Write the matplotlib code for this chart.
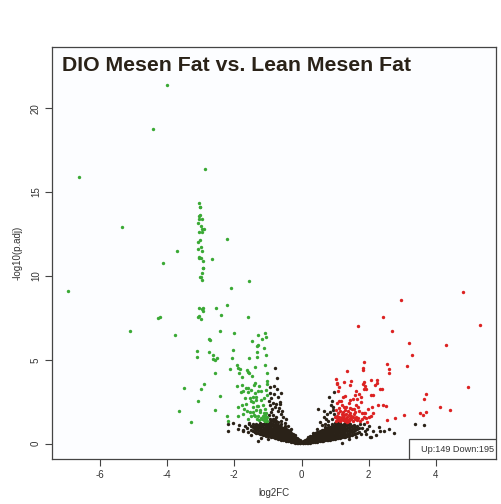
import matplotlib
matplotlib.use("Agg")
import matplotlib.pyplot as plt
from matplotlib.patches import Rectangle

plt.rcParams['font.family'] = ['Liberation Sans', 'DejaVu Sans']

title = "DIO Mesen Fat vs. Lean Mesen Fat"
legend_text = "Up:149 Down:195"
x_ticks = [-6, -4, -2, 0, 2, 4]
y_ticks = [0, 5, 10, 15, 20]

# down-regulated genes (log2FC, -log10 p.adj)
down_pts = [
    (-4.02, 21.4), (-4.41, 18.75), (-6.64, 15.9), (-2.86, 16.35), (-5.35, 12.9),
    (-2.22, 12.2), (-3.71, 11.5), (-4.13, 10.8), (-2.68, 11.0), (-1.56, 9.73),
    (-2.11, 9.3), (-6.94, 9.13), (-5.12, 6.73), (-4.26, 7.5), (-4.2, 7.55),
    (-3.78, 6.47), (-3.5, 3.32), (-3.66, 1.95), (-3.28, 1.3), (-3.09, 2.55),
    (-2.98, 3.24), (-2.9, 3.54),
    (-3.04, 14.37), (-3.01, 14.1), (-3.03, 14.12), (-3.04, 13.6), (-3.01, 13.62),
    (-3.06, 13.4), (-2.97, 13.38), (-3.07, 13.15), (-2.99, 13.0), (-2.97, 12.8),
    (-2.91, 12.82), (-3.04, 12.6), (-2.95, 12.64), (-3.01, 12.16), (-3.07, 12.0),
    (-2.99, 11.7), (-3.09, 11.6), (-2.97, 11.5), (-3.04, 11.15), (-2.98, 11.06),
    (-2.93, 10.9), (-2.94, 10.5), (-2.94, 10.45), (-2.97, 10.15), (-3.03, 9.93),
    (-2.98, 9.93), (-2.96, 9.75), (-3.06, 11.1),
    (-3.1, 5.55), (-3.1, 5.19), (-3.08, 7.58), (-3.05, 7.6), (-3.0, 7.42),
    (-3.06, 8.12), (-2.96, 8.02), (-2.92, 8.1), (-2.93, 7.92), (-2.75, 6.25),
    (-2.72, 6.2), (-2.75, 5.45), (-2.63, 5.3), (-2.63, 5.06), (-2.57, 5.02),
    (-2.51, 5.1), (-2.58, 4.2), (-2.59, 2.03), (-2.44, 2.82), (-2.44, 6.7),
    (-2.55, 8.08), (-2.41, 7.7), (-2.22, 8.28), (-2.0, 6.63), (-2.05, 5.59),
    (-2.07, 5.1), (-2.12, 4.46), (-2.22, 1.65), (-2.19, 1.37), (-1.91, 4.67),
    (-1.88, 4.5), (-1.85, 4.24), (-1.76, 4.0), (-1.91, 3.44), (-1.88, 2.17),
    (-1.9, 1.67), (-1.6, 7.58), (-1.47, 6.11), (-1.55, 5.1), (-1.61, 4.4),
    (-1.58, 4.3), (-1.38, 4.6), (-1.48, 4.04), (-1.34, 5.81), (-1.32, 5.15),
    (-1.29, 5.87), (-1.29, 6.47),
    (-1.08, 6.59), (-1.05, 6.39), (-1.18, 6.25), (-1.12, 5.69), (-1.34, 5.49),
    (-1.06, 5.3), (-1.08, 4.67), (-1.82, 4.46), (-1.56, 4.24), (-1.02, 4.24),
    (-1.03, 3.74), (-1.03, 3.56), (-1.38, 3.64), (-1.42, 3.52), (-1.76, 3.5),
    (-1.26, 3.42), (-1.65, 3.34), (-1.6, 3.34), (-1.5, 3.18), (-1.3, 3.16),
    (-1.2, 3.16), (-1.8, 3.08), (-1.73, 3.12), (-1.6, 3.08), (-1.4, 3.0),
    (-1.44, 2.81), (-1.37, 2.81), (-1.54, 2.7), (-1.22, 2.61), (-1.5, 2.53),
    (-1.44, 2.49), (-1.66, 2.37), (-1.34, 2.27), (-1.29, 2.25), (-1.46, 2.17),
    (-1.7, 2.07), (-1.24, 2.01), (-1.37, 1.99), (-1.52, 1.87), (-1.46, 1.87),
    (-1.24, 1.87), (-1.12, 1.81), (-1.07, 1.81), (-1.5, 1.65), (-1.39, 1.63),
    (-1.29, 1.65), (-1.12, 1.57), (-1.07, 1.55), (-1.08, 1.37),
    (-1.18, 1.45), (-1.13, 1.42), (-1.05, 1.47), (-1.02, 1.62), (-1.16, 1.68),
    (-1.21, 1.52), (-1.1, 1.7), (-1.04, 1.38), (-1.26, 1.4), (-1.34, 1.48),
    (-1.42, 1.72), (-1.58, 1.5), (-1.62, 1.95), (-1.78, 2.3), (-1.35, 2.6),
    (-1.15, 2.3), (-1.1, 2.05), (-1.02, 2.9), (-1.06, 3.2), (-1.12, 2.7),
    (-1.75, 1.8), (-1.68, 2.7),
]

# up-regulated genes
up_pts = [
    (4.8, 9.07), (2.97, 8.54), (5.31, 7.1), (2.42, 7.54), (1.69, 7.0),
    (2.69, 6.71), (3.2, 6.01), (4.29, 5.89), (3.28, 5.29), (3.15, 4.63),
    (1.85, 4.86), (2.54, 4.76), (1.84, 4.5), (1.82, 4.4), (2.6, 4.46),
    (2.61, 4.24), (1.34, 4.34), (4.95, 3.36), (3.71, 2.94), (3.66, 2.67),
    (4.12, 2.21), (4.43, 2.03), (3.72, 1.89), (3.52, 1.83), (3.63, 1.71),
    (3.04, 1.73), (2.78, 1.53), (2.53, 1.41),
    (1.04, 3.84), (1.07, 3.64), (1.06, 3.58), (1.13, 3.4), (1.27, 3.66),
    (1.48, 3.72), (1.45, 3.48), (1.82, 3.56), (1.87, 3.7), (2.06, 3.8),
    (2.24, 3.8), (2.26, 3.62), (1.9, 3.46), (1.85, 3.26), (1.91, 3.26),
    (2.2, 3.48), (2.34, 3.24), (2.4, 3.24), (1.08, 3.16), (1.63, 3.12),
    (1.7, 2.96), (1.59, 2.92), (2.06, 2.92), (2.12, 2.92), (1.77, 2.81),
    (1.23, 2.76), (1.43, 2.61), (1.53, 2.64), (1.65, 2.64), (1.77, 2.47),
    (1.11, 2.53), (2.28, 2.33), (2.44, 2.33), (2.5, 2.25), (1.26, 2.21),
    (1.32, 2.19), (1.63, 2.33), (1.69, 2.17), (2.1, 2.21), (1.57, 2.05),
    (1.99, 2.05), (1.8, 1.85), (1.86, 1.81), (1.9, 1.81), (2.14, 1.81),
    (2.08, 1.63), (2.0, 1.57), (1.79, 1.47), (1.91, 1.51), (1.94, 1.32),
    (1.03, 1.36), (1.05, 1.52), (1.06, 1.68), (1.08, 1.85), (1.1, 1.42),
    (1.12, 1.6), (1.14, 1.95), (1.16, 1.34), (1.17, 1.5), (1.19, 1.75),
    (1.21, 1.62), (1.22, 1.4), (1.24, 1.88), (1.25, 1.55), (1.27, 1.7),
    (1.29, 1.37), (1.3, 2.02), (1.32, 1.5), (1.33, 1.8), (1.35, 1.62),
    (1.37, 1.43), (1.38, 1.95), (1.4, 1.7), (1.42, 1.35), (1.43, 1.55),
    (1.45, 1.82), (1.47, 1.45), (1.48, 1.65), (1.5, 2.05), (1.52, 1.38),
    (1.54, 1.58), (1.56, 1.76), (1.58, 1.46), (1.6, 1.9), (1.62, 1.62),
    (1.65, 1.4), (1.68, 1.55), (1.12, 2.1), (1.2, 2.3), (1.4, 2.4),
    (1.45, 2.15), (1.72, 1.95), (1.0, 1.6), (1.02, 2.0), (1.18, 2.55),
    (1.3, 2.85), (1.06, 2.4), (1.08, 1.47), (1.35, 1.31), (1.75, 1.35),
    (1.86, 1.6),
]

# non-significant genes, dense V: log2FC column -> -log10 p.adj values
ns_cols = [
    (-0.05, [0.02, 0.06, 0.1, 0.15, 0.2]),
    (-0.1, [0.03, 0.08, 0.13, 0.18, 0.24, 0.3]),
    (-0.15, [0.05, 0.1, 0.16, 0.22, 0.28, 0.36]),
    (-0.2, [0.07, 0.13, 0.2, 0.27, 0.34, 0.42, 0.5]),
    (-0.25, [0.1, 0.17, 0.24, 0.31, 0.38, 0.46, 0.55]),
    (-0.3, [0.12, 0.2, 0.28, 0.36, 0.44, 0.52, 0.62]),
    (-0.35, [0.14, 0.22, 0.3, 0.38, 0.46, 0.55, 0.65, 0.75]),
    (-0.4, [0.16, 0.25, 0.34, 0.43, 0.52, 0.61, 0.7, 0.82]),
    (-0.45, [0.18, 0.27, 0.36, 0.45, 0.54, 0.64, 0.74, 0.86]),
    (-0.5, [0.2, 0.3, 0.4, 0.5, 0.6, 0.7, 0.8, 0.92, 1.05]),
    (-0.55, [0.22, 0.32, 0.42, 0.52, 0.62, 0.73, 0.84, 0.96]),
    (-0.6, [0.25, 0.35, 0.45, 0.56, 0.67, 0.78, 0.9, 1.02, 1.15]),
    (-0.65, [0.27, 0.38, 0.49, 0.6, 0.71, 0.83, 0.95, 1.08]),
    (-0.7, [0.3, 0.41, 0.52, 0.64, 0.76, 0.88, 1.0, 1.13, 1.28]),
    (-0.75, [0.32, 0.44, 0.56, 0.68, 0.8, 0.93, 1.06, 1.2, 1.36]),
    (-0.8, [0.35, 0.47, 0.6, 0.73, 0.86, 0.99, 1.13, 1.28, 1.45]),
    (-0.85, [0.38, 0.5, 0.63, 0.76, 0.9, 1.04, 1.18, 1.33, 1.5]),
    (-0.9, [0.41, 0.54, 0.67, 0.81, 0.95, 1.1, 1.25, 1.42]),
    (-0.95, [0.44, 0.57, 0.71, 0.85, 1.0, 1.15, 1.3, 1.48]),
    (-1.0, [0.46, 0.6, 0.74, 0.89, 1.04, 1.2]),
    (-1.05, [0.48, 0.62, 0.77, 0.92, 1.08, 1.24]),
    (-1.1, [0.5, 0.65, 0.8, 0.96, 1.12, 1.26]),
    (-1.15, [0.53, 0.68, 0.84, 1.0, 1.16]),
    (-1.2, [0.56, 0.72, 0.88, 1.04, 1.2]),
    (-1.25, [0.6, 0.76, 0.92, 1.08, 1.24]),
    (-1.3, [0.64, 0.8, 0.97, 1.14]),
    (-1.35, [0.68, 0.85, 1.02, 1.2]),
    (-1.4, [0.72, 0.9, 1.08]),
    (-1.45, [0.78, 0.97, 1.18]),
    (-1.5, [0.84, 1.05]),
    (0.05, [0.02, 0.06, 0.1, 0.15]),
    (0.1, [0.03, 0.08, 0.13, 0.19, 0.25]),
    (0.15, [0.04, 0.1, 0.16, 0.22, 0.29]),
    (0.2, [0.05, 0.11, 0.18, 0.25, 0.33, 0.41]),
    (0.25, [0.07, 0.13, 0.2, 0.28, 0.36, 0.45]),
    (0.3, [0.08, 0.15, 0.23, 0.31, 0.39, 0.48]),
    (0.35, [0.1, 0.17, 0.25, 0.33, 0.42, 0.52]),
    (0.4, [0.11, 0.19, 0.27, 0.36, 0.45, 0.55, 0.66]),
    (0.45, [0.12, 0.2, 0.29, 0.38, 0.48, 0.58, 0.68]),
    (0.5, [0.14, 0.22, 0.31, 0.41, 0.51, 0.61, 0.72]),
    (0.55, [0.15, 0.24, 0.33, 0.43, 0.53, 0.64, 0.76]),
    (0.6, [0.17, 0.26, 0.36, 0.46, 0.57, 0.68, 0.8]),
    (0.65, [0.18, 0.28, 0.38, 0.49, 0.6, 0.72, 0.84]),
    (0.7, [0.2, 0.3, 0.41, 0.52, 0.63, 0.75, 0.88, 1.0]),
    (0.75, [0.21, 0.32, 0.43, 0.55, 0.67, 0.79, 0.92]),
    (0.8, [0.23, 0.34, 0.46, 0.58, 0.7, 0.83, 0.96, 1.1]),
    (0.85, [0.25, 0.36, 0.48, 0.61, 0.74, 0.87, 1.0]),
    (0.9, [0.27, 0.38, 0.51, 0.64, 0.77, 0.9, 1.04, 1.18]),
    (0.95, [0.28, 0.4, 0.53, 0.67, 0.8, 0.94, 1.08]),
    (1.0, [0.3, 0.42, 0.56, 0.7, 0.84, 0.98, 1.12, 1.26]),
    (1.05, [0.32, 0.45, 0.59, 0.73, 0.87, 1.01, 1.16]),
    (1.1, [0.34, 0.47, 0.61, 0.76, 0.91, 1.06, 1.22]),
    (1.15, [0.36, 0.5, 0.64, 0.79, 0.94, 1.1, 1.25]),
    (1.2, [0.38, 0.52, 0.67, 0.82, 0.98, 1.14]),
    (1.25, [0.4, 0.55, 0.7, 0.86, 1.02, 1.18]),
    (1.3, [0.42, 0.57, 0.73, 0.89, 1.05, 1.22]),
    (1.35, [0.45, 0.6, 0.76, 0.93, 1.1]),
    (1.4, [0.47, 0.63, 0.8, 0.97, 1.15]),
    (1.45, [0.5, 0.67, 0.84, 1.02, 1.2]),
    (1.5, [0.53, 0.7, 0.88, 1.06]),
    (1.55, [0.56, 0.74, 0.92, 1.1]),
    (1.6, [0.6, 0.8, 1.0]),
    (1.65, [0.65, 0.86, 1.08]),
    (1.7, [0.7, 0.92]),
]

# scattered non-significant genes
ns_pts = [
    (-1.57, 1.17), (-1.55, 1.21), (-1.62, 0.92), (-1.75, 0.74), (-1.73, 0.8),
    (-2.18, 0.74), (-2.19, 1.17), (-1.43, 0.94), (-1.39, 0.72), (-1.3, 0.14),
    (-1.35, 0.62), (-1.4, 0.97), (-1.68, 1.05), (-1.85, 1.1), (-1.9, 0.9),
    (-1.6, 0.7), (-2.05, 1.22), (-1.5, 0.5), (-1.2, 0.35), (-1.0, 0.3),
    (-0.78, 4.5), (-0.73, 3.92), (-0.82, 3.42), (-0.93, 3.36), (-0.63, 2.37),
    (-0.82, 2.96), (-0.7, 2.76), (-0.9, 2.73), (-0.65, 2.46), (-0.86, 2.45),
    (-0.8, 2.17), (-0.7, 1.97), (-0.55, 1.57), (-0.46, 1.47), (-0.97, 1.73),
    (-0.92, 1.9), (-0.88, 2.05), (-0.75, 1.62), (-0.62, 1.78), (-0.6, 1.35),
    (-0.5, 1.25), (-0.4, 1.05), (-0.3, 0.85), (-0.94, 2.3), (-0.98, 2.55),
    (-0.76, 2.35), (-0.66, 2.1), (-0.58, 1.95), (-0.85, 1.7), (-0.95, 3.05),
    (-0.6, 3.0), (-0.72, 3.25),
    (1.21, 0.06), (1.93, 0.58), (2.07, 0.42), (2.22, 0.52), (2.34, 0.78),
    (2.45, 0.78), (2.76, 0.62), (3.38, 1.19), (3.64, 1.13), (1.95, 0.88),
    (2.12, 0.78), (2.04, 0.38), (1.8, 0.95), (1.85, 1.15), (2.0, 1.05),
    (2.3, 1.0), (1.75, 1.2), (1.78, 0.55), (1.9, 0.75), (2.6, 0.9),
    (1.4, 0.3), (1.62, 0.4),
    (0.83, 2.76), (0.49, 2.07), (0.75, 1.77), (0.88, 2.3), (0.95, 2.0),
    (0.66, 1.6), (0.9, 1.5), (0.55, 1.3), (0.8, 1.35), (0.97, 1.75),
    (0.6, 1.1), (0.45, 0.85), (0.7, 1.2), (0.35, 0.65), (0.92, 2.55),
    (0.98, 3.1), (0.85, 1.9), (0.72, 1.45), (0.93, 2.17), (0.66, 1.97),
]

ink = "#2a2218"
col_down = "#3aa935"
col_up = "#dc2222"

ns_x = [c for c, ys in ns_cols for _ in ys] + [p[0] for p in ns_pts]
ns_y = [y for c, ys in ns_cols for y in ys] + [p[1] for p in ns_pts]

fig = plt.figure(figsize=(5.02, 5.04), dpi=100)
ax = fig.add_axes([52 / 502, (504 - 459.3) / 504, 444 / 502, 412.6 / 504])
ax.set_facecolor("#fcfdff")

ax.scatter(ns_x, ns_y, s=6, c=ink, linewidths=0)
ax.scatter([p[0] for p in down_pts], [p[1] for p in down_pts], s=6, c=col_down, linewidths=0)
ax.scatter([p[0] for p in up_pts], [p[1] for p in up_pts], s=6, c=col_up, linewidths=0)

ax.set_xlim(-7.43, 5.79)
ax.set_ylim(-0.93, 23.67)
ax.set_xticks(x_ticks)
ax.set_yticks(y_ticks)
ax.set_xticklabels([str(t) for t in x_ticks])
ax.set_yticklabels([str(t) for t in y_ticks], rotation=90, va="center")
ax.tick_params(direction="out", length=5, width=0.8, labelsize=7, pad=3,
               colors="#444444", labelcolor="#333333")
for s in ax.spines.values():
    s.set_color("#444444")
    s.set_linewidth(0.9)

ax.text(0.0225, 0.942, title, transform=ax.transAxes, fontsize=15.3,
        fontweight="bold", color=ink, ha="left", va="baseline")

ax.add_patch(Rectangle((0.805, 0.0), 0.195, 0.0485, transform=ax.transAxes,
                       facecolor="white", edgecolor="#444444", lw=0.9, zorder=5))
ax.text(0.914, 0.0242, legend_text, transform=ax.transAxes, fontsize=6.6,
        color="#333333", ha="center", va="center", zorder=6)

fig.text(274 / 502, 1 - 493 / 504, "log2FC", ha="center", va="center",
         fontsize=7, color="#333333")
fig.text(18 / 502, 1 - 253 / 504, "-log10(p.adj)", ha="center", va="center",
         rotation=90, fontsize=7, color="#333333")

fig.savefig("out.png", dpi=100, facecolor="white")
